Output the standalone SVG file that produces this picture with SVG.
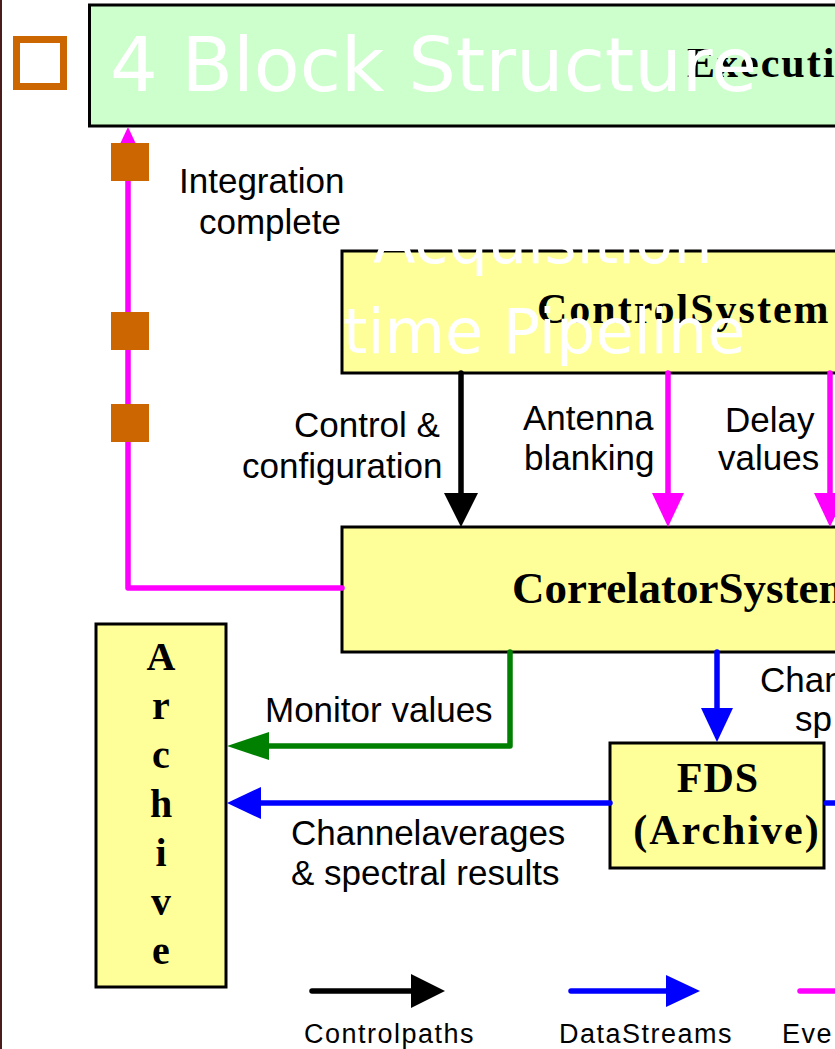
<svg xmlns="http://www.w3.org/2000/svg" width="835" height="1049" viewBox="0 0 835 1049">
  <style>
    .box-green { fill: #CCFFCC; stroke: #000; stroke-width: 3; }
    .box-yellow { fill: #FFFF99; stroke: #000; stroke-width: 3; }
    .node-title { font-family: "Liberation Serif", "Times New Roman", serif; font-weight: bold; fill: #000; }
    .lbl { font-family: "Liberation Sans", Arial, sans-serif; fill: #000; font-size: 35px; }
    .legend-lbl { font-family: "Liberation Sans", Arial, sans-serif; fill: #000; font-size: 27px; letter-spacing: 1.5px; }
    .slide-title { font-family: "DejaVu Sans", Verdana, sans-serif; fill: #FFFFFF; }
    .wire { fill: none; stroke-width: 5.5; stroke-linecap: round; stroke-linejoin: round; }
    .event { stroke: #FF00FF; }
    .ctrl { stroke: #000000; }
    .data { stroke: #0000FF; }
    .mon { stroke: #008000; }
  </style>
  <defs>
    <marker id="head-black" markerUnits="userSpaceOnUse" viewBox="0 0 36 34" markerWidth="36" markerHeight="34" refX="2" refY="17" orient="auto">
      <path d="M0,0 L34,17 L0,34 Z" fill="#000000"/>
    </marker>
    <marker id="head-magenta" markerUnits="userSpaceOnUse" viewBox="0 0 36 32" markerWidth="36" markerHeight="32" refX="2" refY="16" orient="auto">
      <path d="M0,0 L34,16 L0,32 Z" fill="#FF00FF"/>
    </marker>
    <marker id="head-blue" markerUnits="userSpaceOnUse" viewBox="0 0 36 32" markerWidth="36" markerHeight="32" refX="2" refY="16" orient="auto">
      <path d="M0,0 L34,16 L0,32 Z" fill="#0000FF"/>
    </marker>
    <marker id="head-green" markerUnits="userSpaceOnUse" viewBox="0 0 44 28" markerWidth="44" markerHeight="28" refX="2" refY="14" orient="auto">
      <path d="M0,0 L42,14 L0,28 Z" fill="#008000"/>
    </marker>
  </defs>

  <rect width="835" height="1049" fill="#FFFFFF"/>
  <!-- slide edge -->
  <rect x="0" y="0" width="2" height="1049" fill="#4A1C1C"/>

  <!-- bullet -->
  <rect x="16.5" y="39.5" width="47" height="47" fill="none" stroke="#CC6600" stroke-width="7"/>

  <g id="node-execution">
    <rect class="box-green" x="89.5" y="5" width="770" height="121"/>
    <text class="node-title" x="687" y="77" font-size="42" letter-spacing="2">Executi</text>
  </g>

  <g id="node-control">
    <rect class="box-yellow" x="342" y="251" width="510" height="122"/>
    <text class="node-title" x="537" y="323" font-size="42" letter-spacing="2">ControlSystem</text>
  </g>

  <g id="node-correlator">
    <rect class="box-yellow" x="342" y="527" width="510" height="125"/>
    <text class="node-title" x="512" y="603" font-size="45">CorrelatorSystem</text>
  </g>

  <g id="node-fds">
    <rect class="box-yellow" x="610" y="743" width="214" height="125"/>
    <text class="node-title" x="718" y="792" font-size="42" text-anchor="middle" letter-spacing="1">FDS</text>
    <text class="node-title" x="727" y="844" font-size="42" text-anchor="middle" letter-spacing="2">(Archive)</text>
  </g>

  <g id="node-archive">
    <rect class="box-yellow" x="96" y="624" width="130" height="363"/>
    <g class="node-title" font-size="40" text-anchor="middle">
      <text x="161" y="670">A</text>
      <text x="161" y="719">r</text>
      <text x="161" y="768">c</text>
      <text x="161" y="817">h</text>
      <text x="161" y="866">i</text>
      <text x="161" y="915">v</text>
      <text x="161" y="964">e</text>
    </g>
  </g>

  <g id="connectors">
    <!-- integration complete event back to the executive -->
    <path class="wire event" d="M342,588 H128 V159" marker-end="url(#head-magenta)"/>
    <!-- control system to correlator -->
    <path class="wire ctrl" d="M461,373 V495" stroke-linecap="butt" marker-end="url(#head-black)"/>
    <path class="wire event" d="M668,373 V495" stroke-linecap="butt" marker-end="url(#head-magenta)"/>
    <path class="wire event" d="M830,373 V495" stroke-linecap="butt" marker-end="url(#head-magenta)"/>
    <!-- correlator outputs -->
    <path class="wire mon" d="M510,652 V746 H267" marker-end="url(#head-green)"/>
    <path class="wire data" d="M717,652 V710" marker-end="url(#head-blue)"/>
    <path class="wire data" d="M610,803 H259" stroke-linecap="butt" marker-end="url(#head-blue)"/>
    <path class="wire data" d="M826,803 H840"/>
    <!-- event markers on the integration line -->
    <rect x="111" y="143" width="38" height="38" fill="#CC6600"/>
    <rect x="111" y="312" width="38" height="38" fill="#CC6600"/>
    <rect x="111" y="404" width="38" height="38" fill="#CC6600"/>
  </g>

  <g id="labels">
    <text class="lbl" x="179" y="193" font-size="32">Integration</text>
    <text class="lbl" x="199" y="234" font-size="32">complete</text>
    <text class="lbl" x="294" y="437">Control &amp;</text>
    <text class="lbl" x="242" y="478">configuration</text>
    <text class="lbl" x="523" y="430">Antenna</text>
    <text class="lbl" x="524" y="470">blanking</text>
    <text class="lbl" x="725" y="432">Delay</text>
    <text class="lbl" x="718" y="470">values</text>
    <text class="lbl" x="265" y="722" font-size="34">Monitor values</text>
    <text class="lbl" x="291" y="845">Channelaverages</text>
    <text class="lbl" x="291" y="885">&amp; spectral results</text>
    <text class="lbl" x="760" y="692">Chan</text>
    <text class="lbl" x="795" y="731">sp</text>
  </g>

  <g id="legend">
    <path class="wire ctrl" d="M312,991 H413" marker-end="url(#head-black)"/>
    <path class="wire data" d="M571,991 H668" marker-end="url(#head-blue)"/>
    <path class="wire event" d="M800,991 H840"/>
    <text class="legend-lbl" x="304" y="1043">Controlpaths</text>
    <text class="legend-lbl" x="559" y="1043">DataStreams</text>
    <text class="legend-lbl" x="782" y="1043">Eve</text>
  </g>

  <!-- slide heading, drawn over the diagram -->
  <g id="heading" class="slide-title">
    <text x="110" y="91" font-size="75">4 Block Structure</text>
    <text x="373" y="263" font-size="62">Acquisition</text>
    <text x="343" y="353" font-size="62">time Pipeline</text>
  </g>
</svg>
